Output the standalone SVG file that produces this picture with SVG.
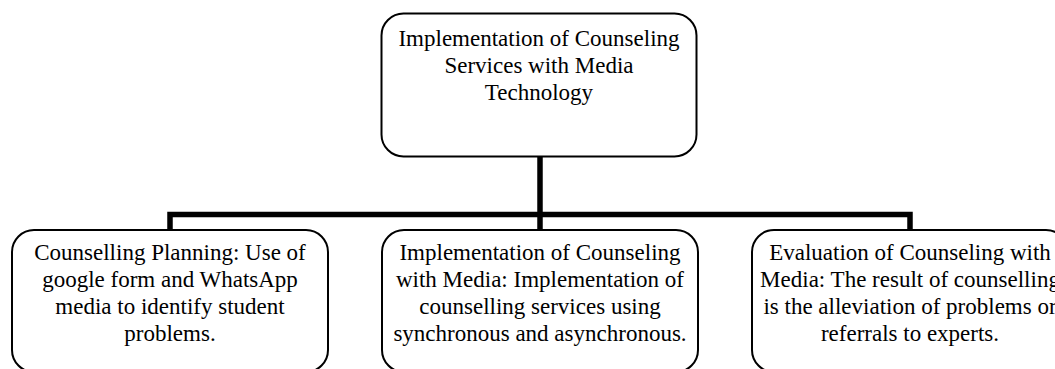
<svg xmlns="http://www.w3.org/2000/svg" width="1055" height="369" viewBox="0 0 1055 369">
<style>
.box{fill:#fff;stroke:#000;stroke-width:2}
.t{font-family:"Liberation Serif","Times New Roman",serif;font-size:23px;fill:#000;text-anchor:middle}
.c{fill:none;stroke:#000;stroke-width:5.5;stroke-linecap:butt;stroke-linejoin:miter}
</style>
<rect width="1055" height="369" fill="#fff"/>
<g id="connectors">
<path class="c" d="M540 157 V230"/>
<path class="c" d="M170 230 V214.5 H910 V230"/>
</g>
<g id="top">
<rect class="box" x="381.5" y="13.5" width="315" height="143" rx="22"/>
<text class="t" x="539" y="46">Implementation of Counseling</text>
<text class="t" x="539" y="73">Services with Media</text>
<text class="t" x="539" y="100">Technology</text>
</g>
<g id="planning">
<rect class="box" x="12" y="230" width="316" height="142" rx="22"/>
<text class="t" x="170" y="260">Counselling Planning: Use of</text>
<text class="t" x="170" y="287">google form and WhatsApp</text>
<text class="t" x="170" y="314">media to identify student</text>
<text class="t" x="170" y="341">problems.</text>
</g>
<g id="implementation">
<rect class="box" x="382" y="230" width="316" height="142" rx="22"/>
<text class="t" x="540" y="260">Implementation of Counseling</text>
<text class="t" x="540" y="287">with Media: Implementation of</text>
<text class="t" x="540" y="314">counselling services using</text>
<text class="t" x="540" y="341">synchronous and asynchronous.</text>
</g>
<g id="evaluation">
<rect class="box" x="752" y="230" width="316" height="142" rx="22"/>
<text class="t" x="910" y="260">Evaluation of Counseling with</text>
<text class="t" x="910" y="287">Media: The result of counselling</text>
<text class="t" x="910" y="314">is the alleviation of problems or</text>
<text class="t" x="910" y="341">referrals to experts.</text>
</g>
</svg>
